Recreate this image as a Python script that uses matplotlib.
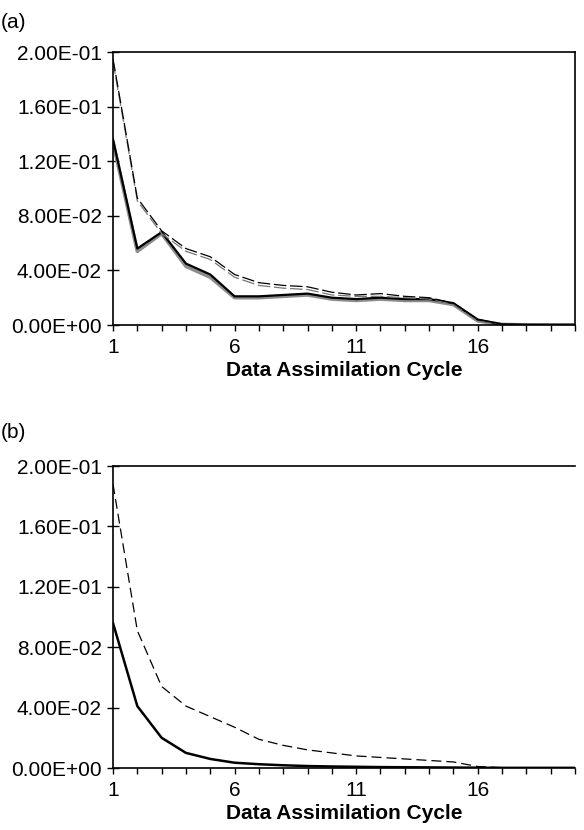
import matplotlib
matplotlib.use("Agg")
from matplotlib import pyplot as plt
from matplotlib.ticker import FixedLocator, FuncFormatter

plt.rcParams['font.family'] = ['Liberation Sans', 'DejaVu Sans']

cycles = list(range(1, 21))

# panel (a)
a_solid = [0.136, 0.056, 0.068, 0.045, 0.037, 0.021, 0.021, 0.022, 0.023, 0.020,
           0.019, 0.020, 0.019, 0.019, 0.016, 0.004, 0.0005, 0.0002, 0.0001, 0.0001]
a_solid_gray = [0.134, 0.054, 0.067, 0.043, 0.035, 0.020, 0.020, 0.021, 0.022, 0.019,
                0.018, 0.019, 0.018, 0.018, 0.015, 0.003, 0.0004, 0.0001, 0.0001, 0.0001]
a_dash = [0.195, 0.093, 0.069, 0.056, 0.050, 0.037, 0.031, 0.029, 0.028, 0.024,
          0.022, 0.023, 0.021, 0.020, 0.016, 0.004, 0.0005, 0.0002, 0.0001, 0.0001]
a_dash_gray = [0.193, 0.091, 0.067, 0.054, 0.048, 0.035, 0.029, 0.027, 0.026, 0.022,
               0.021, 0.021, 0.020, 0.019, 0.015, 0.003, 0.0004, 0.0001, 0.0001, 0.0001]

# panel (b)
b_solid = [0.096, 0.041, 0.020, 0.010, 0.006, 0.0035, 0.0025, 0.0018, 0.0013, 0.0010,
           0.0008, 0.0006, 0.0005, 0.0004, 0.0003, 0.0002, 0.0001, 0.0001, 0.0001, 0.0001]
b_dash = [0.188, 0.091, 0.054, 0.041, 0.034, 0.027, 0.019, 0.015, 0.012, 0.010,
          0.008, 0.007, 0.006, 0.005, 0.004, 0.001, 0.0002, 0.0001, 0.0001, 0.0001]

y_ticks = [0.0, 0.04, 0.08, 0.12, 0.16, 0.20]
x_labels = [1, 6, 11, 16]

W, H = 584, 830
FS = 15
fig = plt.figure(figsize=(W / 100, H / 100), dpi=100)


def style_axis(ax, right_spine=True):
    ax.set_xlim(1, 20)
    ax.set_ylim(0, 0.2)
    ax.yaxis.set_major_locator(FixedLocator(y_ticks))
    ax.yaxis.set_major_formatter(FuncFormatter(lambda v, p: f"{v:.2E}"))
    ax.xaxis.set_major_locator(FixedLocator(cycles))
    ax.xaxis.set_major_formatter(FuncFormatter(lambda v, p: str(int(v)) if int(v) in x_labels else ""))
    ax.tick_params(axis='y', direction='inout', length=8, width=1, labelsize=FS, pad=4)
    ax.tick_params(axis='x', direction='out', length=4, width=1, labelsize=FS, pad=5)
    for s in ax.spines.values():
        s.set_linewidth(1.2)
    ax.spines['right'].set_visible(right_spine)
    ax.set_xlabel("Data Assimilation Cycle", fontsize=FS, fontweight='bold', labelpad=3)


ax1 = fig.add_axes([113 / W, 1 - 325 / H, 462 / W, 273 / H])
ax1.plot(cycles, a_solid_gray, color='#8c8c8c', lw=2.6)
ax1.plot(cycles, a_solid, color='black', lw=1.6)
ax1.plot(cycles, a_dash_gray, color='#777777', lw=0.9, dashes=(10, 3))
ax1.plot(cycles, a_dash, color='black', lw=0.9, dashes=(10, 3))
style_axis(ax1, right_spine=True)
fig.text(1 / W, 1 - 23 / H, "(a)", fontsize=FS, va='center', ha='left')

ax2 = fig.add_axes([113 / W, 1 - 768 / H, 462 / W, 302 / H])
ax2.plot(cycles, b_solid, color='black', lw=1.8)
ax2.plot(cycles, b_dash, color='black', lw=0.9, dashes=(8, 4))
style_axis(ax2, right_spine=False)
fig.text(1 / W, 1 - 432 / H, "(b)", fontsize=FS, va='center', ha='left')

fig.savefig("out.png", dpi=100)
